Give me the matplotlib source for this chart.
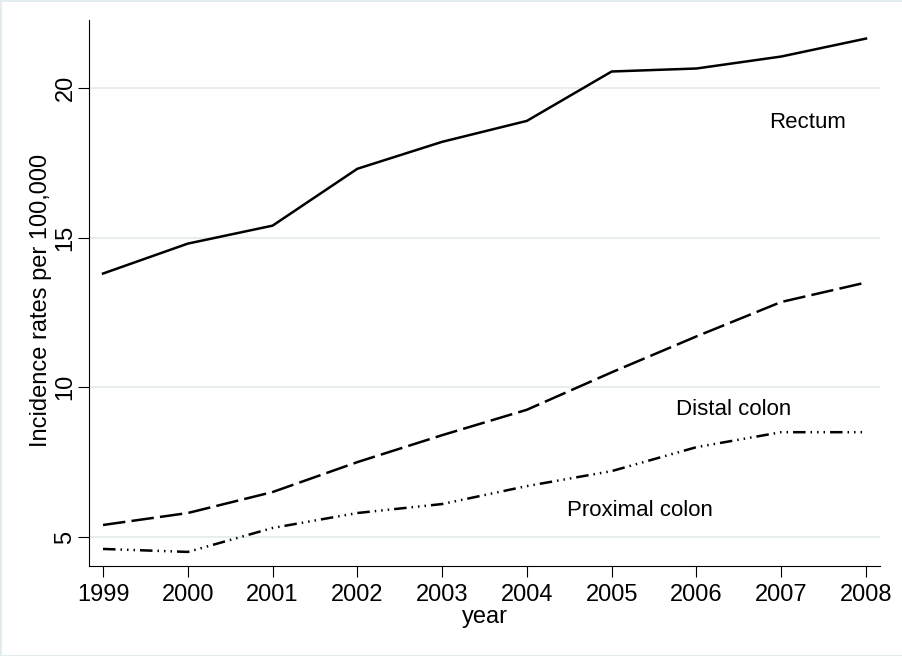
import matplotlib.pyplot as plt

plt.rcParams['font.family'] = ['Liberation Sans', 'DejaVu Sans']

years = [1999, 2000, 2001, 2002, 2003, 2004, 2005, 2006, 2007, 2008]
rectum = [13.8, 14.8, 15.4, 17.3, 18.2, 18.9, 20.55, 20.65, 21.05, 21.65]
distal = [5.4, 5.8, 6.5, 7.5, 8.4, 9.25, 10.5, 11.7, 12.85, 13.5]
proximal = [4.6, 4.5, 5.3, 5.8, 6.1, 6.7, 7.2, 8.0, 8.5, 8.5]

fig = plt.figure(figsize=(9.03, 6.56), dpi=100)
fig.patch.set_edgecolor('#e3ecef')
fig.patch.set_linewidth(2)
ax = fig.add_axes([0.0986, 0.1372, 0.8759, 0.8323])

ax.plot(years, rectum, color='black', lw=1.8, solid_joinstyle='miter')
ax.plot(years, distal, color='black', lw=1.8, dashes=(9, 2.5))
ax.plot(years, proximal, color='black', lw=1.8, dashes=(5, 2, 0.6, 2, 0.6, 2, 0.6, 2))

ax.text(2007.31, 18.83, 'Rectum', fontsize=16, ha='center', va='center')
ax.text(2006.44, 9.27, 'Distal colon', fontsize=16, ha='center', va='center')
ax.text(2005.33, 5.9, 'Proximal colon', fontsize=16, ha='center', va='center')

ax.set_xlim(1998.835, 2008.165)
ax.set_ylim(4.03, 22.27)
ax.set_xticks(years)
ax.set_yticks([5, 10, 15, 20])
ax.yaxis.grid(True, color='#e8eef0', lw=1.5)
ax.set_axisbelow(True)
for s in ['top', 'right']:
    ax.spines[s].set_visible(False)
ax.tick_params(direction='out', length=8, labelsize=17)
ax.tick_params(axis='x', pad=5)
ax.tick_params(axis='y', pad=1)
plt.setp(ax.get_yticklabels(), rotation=90, va='center')
ax.set_xlabel('year', fontsize=17, labelpad=0)
ax.set_ylabel('Incidence rates per 100,000', fontsize=17)
ax.yaxis.set_label_coords(-0.047, 0.487)

fig.savefig('out.png', dpi=100)
